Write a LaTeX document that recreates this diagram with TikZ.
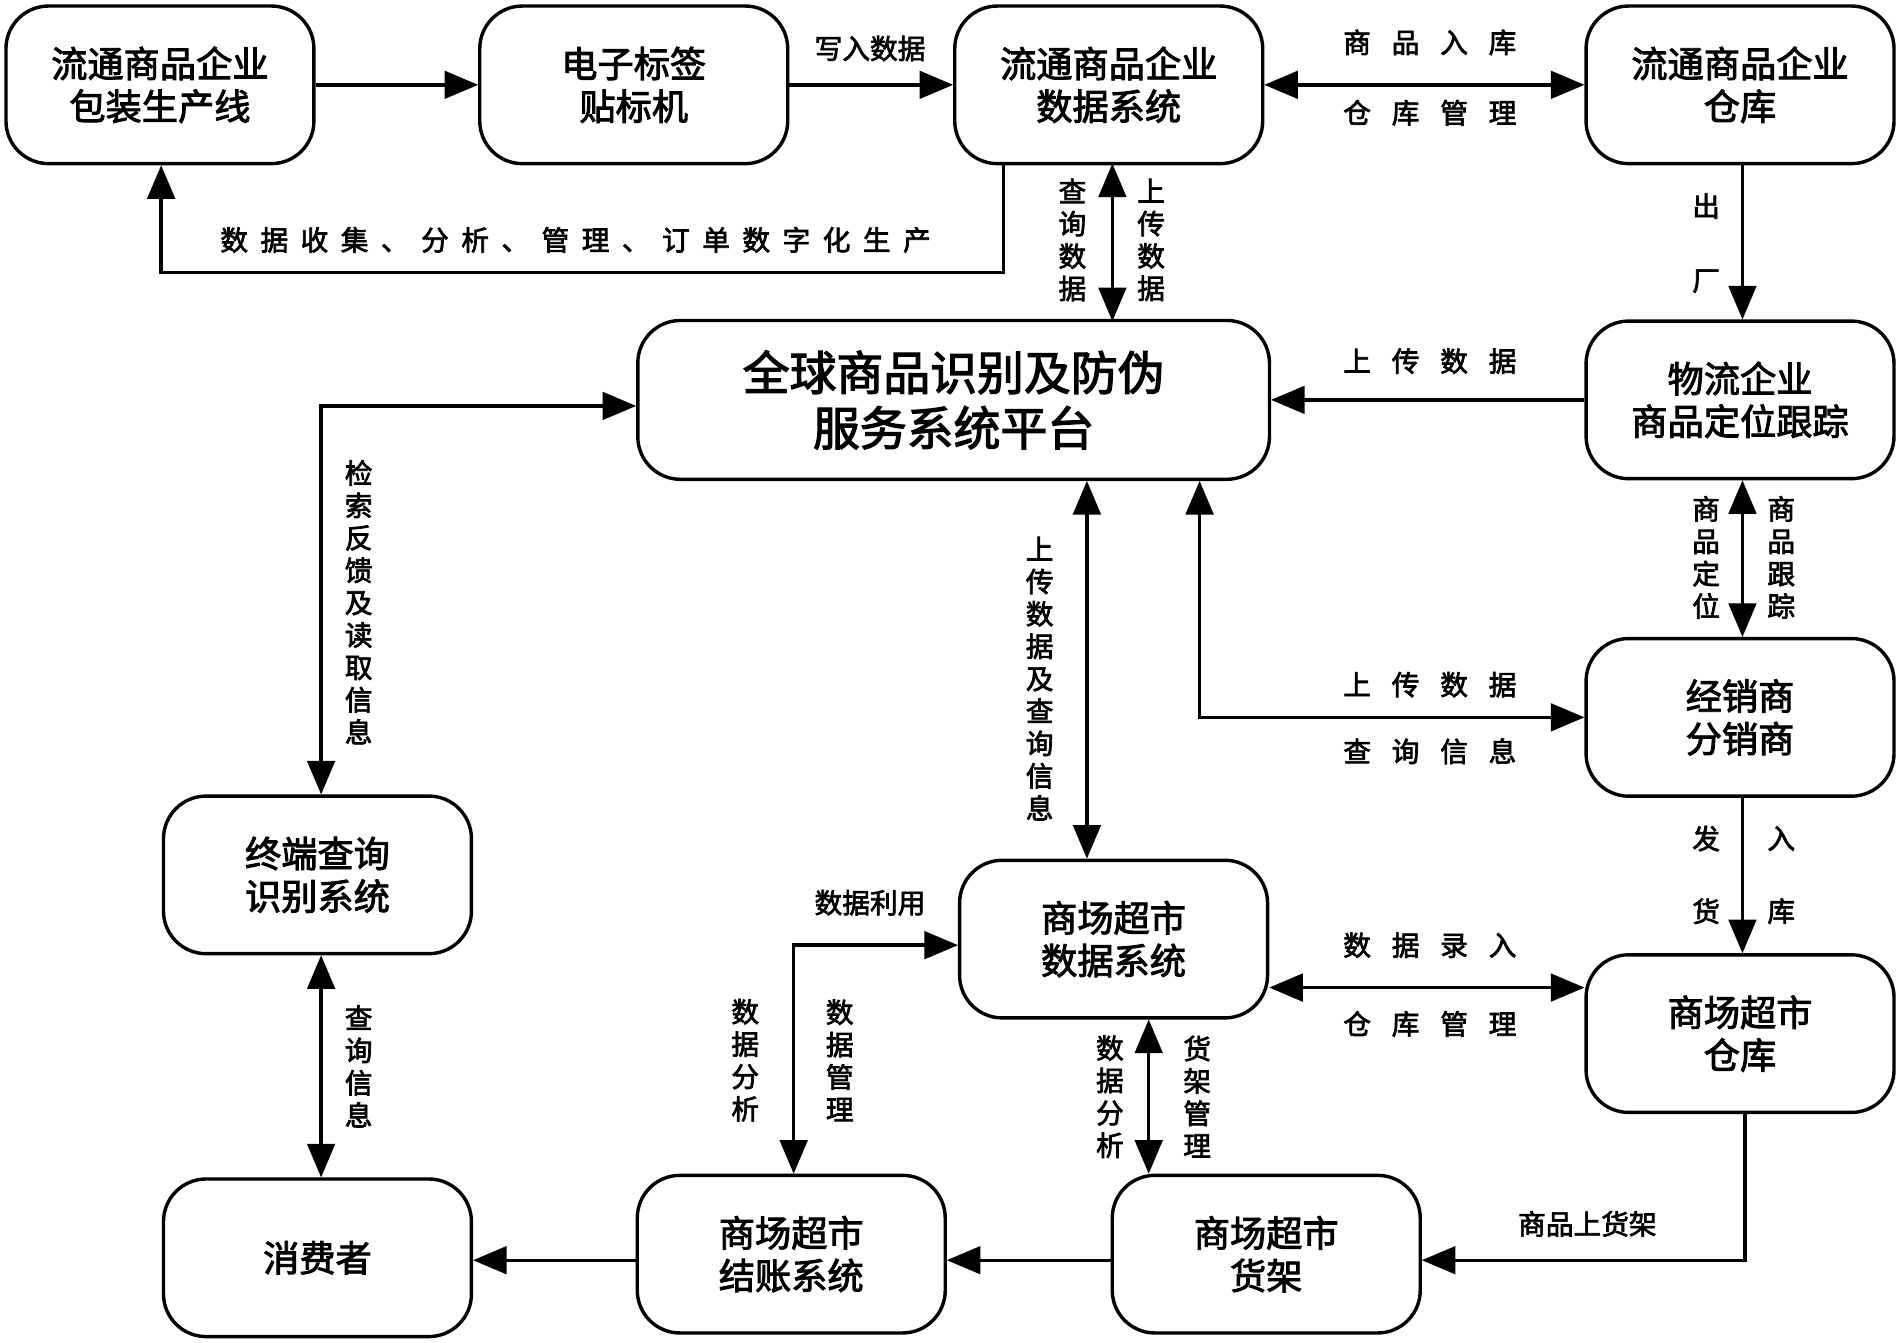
\documentclass[tikz,border=0pt]{standalone}
\usepackage{fontspec}
\setmainfont{Noto Sans CJK SC}[AutoFakeBold=2.5]
\usetikzlibrary{arrows}
\newcommand{\gp}{\hspace{0.75em}}
\newcommand{\sgp}{\hspace{0.45em}}
\tikzset{
  box/.style={draw, thick, rounded corners=10pt, minimum width=2.54cm, minimum height=1.3cm,
              align=center, font=\fontsize{8.5}{10}\selectfont\bfseries},
  lbl/.style={font=\fontsize{6.5}{7.6}\selectfont\bfseries, align=center, inner sep=1pt},
  con/.style={thick, -triangle 45},
  bicon/.style={thick, triangle 45-triangle 45}
}
\begin{document}
\begin{tikzpicture}[x=0.01cm, y=-0.01cm]
  \useasboundingbox (0,0) rectangle (1568,1108);
  % boxes
  \node[box] (pack)  at (132,70)   {流通商品企业\\包装生产线};
  \node[box] (tag)   at (523,70)   {电子标签\\贴标机};
  \node[box] (data)  at (915,70)   {流通商品企业\\数据系统};
  \node[box] (store) at (1436,70)  {流通商品企业\\仓库};
  \node[box, minimum width=5.21cm, minimum height=1.31cm, font=\fontsize{11}{13}\selectfont\bfseries]
        (plat) at (787,330) {全球商品识别及防伪\\服务系统平台};
  \node[box] (logi)  at (1436,330) {物流企业\\商品定位跟踪};
  \node[box] (dist)  at (1436,592) {经销商\\分销商};
  \node[box] (term)  at (262,722)  {终端查询\\识别系统};
  \node[box] (mdata) at (919,775)  {商场超市\\数据系统};
  \node[box] (mware) at (1436,853) {商场超市\\仓库};
  \node[box] (cons)  at (262,1038) {消费者};
  \node[box] (check) at (653,1035) {商场超市\\结账系统};
  \node[box] (shelf) at (1045,1035){商场超市\\货架};

  % top row
  \draw[con] (pack) -- (tag);
  \draw[con] (tag) -- (data);
  \node[lbl] at (718,40) {写入数据};
  \draw[bicon] (data) -- (store);
  \node[lbl] at (1180,35) {商\gp 品\gp 入\gp 库};
  \node[lbl] at (1180,93) {仓\gp 库\gp 管\gp 理};
  \coordinate (c1) at (828,225);
  \coordinate (c2) at (133,225);
  \draw[con] (data.south -| c1) |- (c2) -- (pack.south -| c2);
  \node[lbl] at (475,198) {数\sgp 据\sgp 收\sgp 集\sgp 、\sgp 分\sgp 析\sgp 、\sgp 管\sgp 理\sgp 、\sgp 订\sgp 单\sgp 数\sgp 字\sgp 化\sgp 生\sgp 产};
  \draw[bicon] (918,135) -- (918,265);
  \node[lbl] at (885,198) {查\\询\\数\\据};
  \node[lbl] at (950,198) {上\\传\\数\\据};

  % right column
  \draw[con] (store.south -| 1438,0) -- (logi.north -| 1438,0);
  \node[lbl] at (1408,170) {出};
  \node[lbl] at (1408,232) {厂};
  \draw[con] (logi) -- (plat);
  \node[lbl] at (1180,298) {上\gp 传\gp 数\gp 据};
  \draw[bicon] (logi.south -| 1438,0) -- (dist.north -| 1438,0);
  \node[lbl] at (1408,460) {商\\品\\定\\位};
  \node[lbl] at (1470,460) {商\\品\\跟\\踪};
  \coordinate (c3) at (990,592);
  \draw[bicon] (plat.south -| c3) -- (c3) -- (dist);
  \node[lbl] at (1180,565) {上\gp 传\gp 数\gp 据};
  \node[lbl] at (1180,620) {查\gp 询\gp 信\gp 息};
  \draw[con] (dist.south -| 1438,0) -- (mware.north -| 1438,0);
  \node[lbl] at (1408,692) {发};
  \node[lbl] at (1408,752) {货};
  \node[lbl] at (1470,692) {入};
  \node[lbl] at (1470,752) {库};

  % left column
  \coordinate (c4) at (265,335);
  \draw[bicon] (plat.west |- c4) -- (c4) -- (term.north -| c4);
  \node[lbl] at (296,497) {检\\索\\反\\馈\\及\\读\\取\\信\\息};
  \draw[bicon] (term.south -| 265,0) -- (cons.north -| 265,0);
  \node[lbl] at (296,880) {查\\询\\信\\息};

  % mall
  \draw[bicon] (plat.south -| 897,0) -- (mdata.north -| 897,0);
  \node[lbl] at (858,560) {上\\传\\数\\据\\及\\查\\询\\信\\息};
  \draw[bicon] (mdata.east |- 0,815) -- (mware.west |- 0,815);
  \node[lbl] at (1180,780) {数\gp 据\gp 录\gp 入};
  \node[lbl] at (1180,845) {仓\gp 库\gp 管\gp 理};
  \coordinate (c5) at (655,780);
  \draw[bicon] (check.north -| c5) -- (c5) -- (mdata.west |- c5);
  \node[lbl] at (718,745) {数据利用};
  \node[lbl] at (615,875) {数\\据\\分\\析};
  \node[lbl] at (693,875) {数\\据\\管\\理};
  \draw[bicon] (mdata.south -| 948,0) -- (shelf.north -| 948,0);
  \node[lbl] at (916,905) {数\\据\\分\\析};
  \node[lbl] at (988,905) {货\\架\\管\\理};
  \coordinate (c6) at (1440,1040);
  \draw[con] (mware.south -| c6) -- (c6) -- (shelf.east |- c6);
  \node[lbl] at (1310,1010) {商品上货架};
  \draw[con] (shelf.west |- 0,1040) -- (check.east |- 0,1040);
  \draw[con] (check.west |- 0,1040) -- (cons.east |- 0,1040);
\end{tikzpicture}
\end{document}
